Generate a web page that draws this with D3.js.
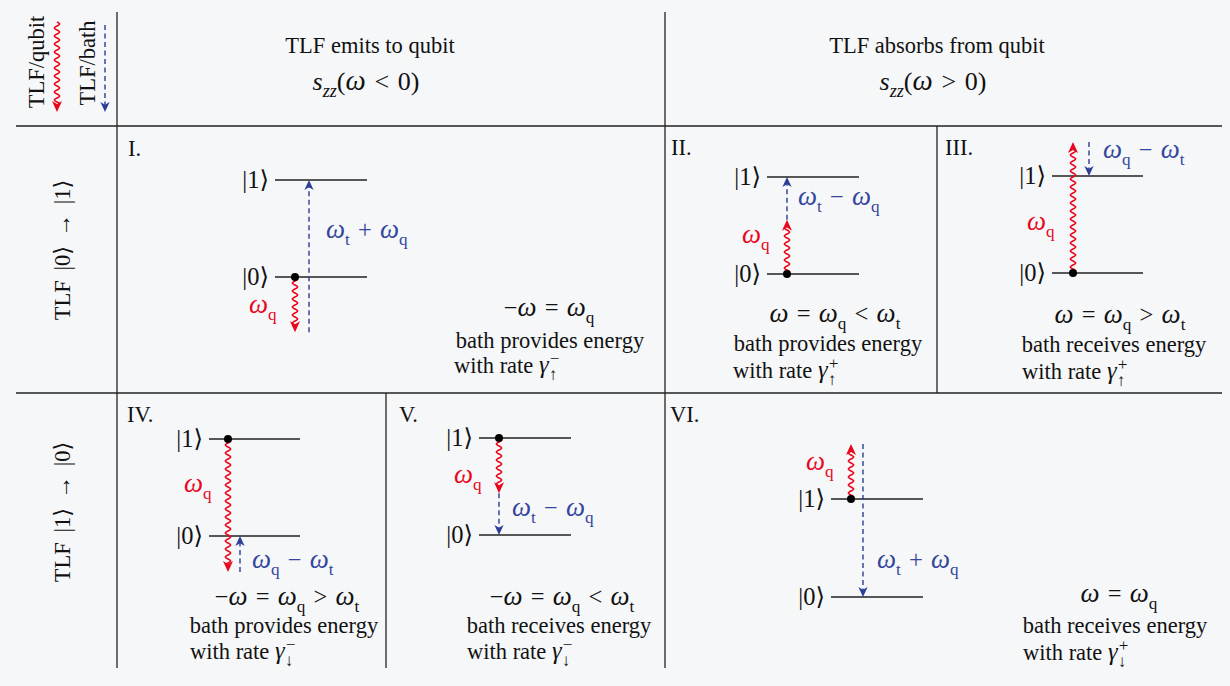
<!DOCTYPE html>
<html>
<head>
<meta charset="utf-8">
<script src="https://cdn.jsdelivr.net/npm/d3@7"></script>
<style>
  html, body { margin: 0; padding: 0; background: #f6f7f9; }
  svg { display: block; }
  text { font-family: "Liberation Serif", "DejaVu Serif", serif; fill: #111; }
</style>
</head>
<body>
<svg id="chart" width="1230" height="686"></svg>
<script>
// ---------- content of the table ----------
const columnTitles = ["TLF emits to qubit", "TLF absorbs from qubit"];
const columnSpectra = ["s_{zz}(ω < 0)", "s_{zz}(ω > 0)"];
const rowTitles = ["TLF |0⟩ → |1⟩", "TLF |1⟩ → |0⟩"];
const legendLabels = ["TLF/qubit", "TLF/bath"];

const panelNames = ["I.", "II.", "III.", "IV.", "V.", "VI."];
// TLF level before and after the transition
const initialLevel = [0, 0, 0, 1, 1, 1];
const finalLevel = [1, 1, 1, 0, 0, 0];
// energy handed to (negative) or taken from (positive) the qubit, in units of the TLF splitting ω_t
const qubitStep = [-0.57, 0.56, 1.35, -1.37, -0.57, 0.56];
const qubitLabels = ["ω_q", "ω_q", "ω_q", "ω_q", "ω_q", "ω_q"];
const bathLabels = ["ω_t + ω_q", "ω_t − ω_q", "ω_q − ω_t", "ω_q − ω_t", "ω_t − ω_q", "ω_t + ω_q"];
const conditions = ["−ω = ω_q", "ω = ω_q < ω_t", "ω = ω_q > ω_t",
                    "−ω = ω_q > ω_t", "−ω = ω_q < ω_t", "ω = ω_q"];
const bathRoles = ["bath provides energy", "bath provides energy", "bath receives energy",
                   "bath provides energy", "bath receives energy", "bath receives energy"];
const rateSymbols = ["γ_↑^−", "γ_↑^+", "γ_↑^+", "γ_↓^−", "γ_↓^−", "γ_↓^+"];
const levelNames = ["|0⟩", "|1⟩"];

// ---------- page layout ----------
const W = 1230, H = 686;
const FS = 22.5;          // body text size
const MFS = 24.5;         // math size
const RED = "#e8071d", BLUE = "#2d3e95", BLUE_TXT = "#34459d", INK = "#222";

// table rules: [x1, y1, x2, y2]
const rules = [
  [16, 126, 1222, 126], [16, 393, 1222, 393],
  [117, 12, 117, 668], [665, 12, 665, 668],
  [937, 126, 937, 393], [386, 393, 386, 668]
];

// per panel drawing frame
const panelLayout = [
  {lx: [275, 367], ly: [277, 180], dotX: 295, bathX: 309, qLab: [249, 313], bLab: [326, 238],
   name: [128, 156], cond: [549, 316], role: [550, 348], rate: [454, 373]},
  {lx: [767, 859], ly: [274, 177], dotX: 787, bathX: 787, qLab: [742, 243], bLab: [798, 205],
   name: [671, 155], cond: [835, 322], role: [828, 351], rate: [733, 378]},
  {lx: [1052, 1143], ly: [273, 176], dotX: 1073, bathX: 1089, qLab: [1027, 230], bLab: [1103, 158],
   name: [945, 155], cond: [1120, 323], role: [1114, 352], rate: [1022, 379]},
  {lx: [209, 300], ly: [536, 439], dotX: 228, bathX: 240, qLab: [184, 492], bLab: [252, 568],
   name: [127, 422], cond: [287, 605], role: [284, 633], rate: [190, 659]},
  {lx: [479, 571], ly: [535, 438], dotX: 499, bathX: 499, qLab: [454, 483], bLab: [512, 516],
   name: [399, 422], cond: [562, 605], role: [559, 633], rate: [467, 659]},
  {lx: [831, 923], ly: [597, 499], dotX: 851, bathX: 863, qLab: [806, 470], bLab: [877, 568],
   name: [670, 422], cond: [1119, 602], role: [1115, 633], rate: [1023, 660]}
];

const svg = d3.select("#chart");
svg.append("rect").attr("width", W).attr("height", H).attr("fill", "#f6f7f9");

// ---------- helpers ----------
const ITALIC = new Set(["ω", "s", "z", "γ"]);
const BIG = new Set(["ω"]);   // letters drawn slightly larger, like a math font

// Small TeX-like typesetter: "_x" / "_{xy}" subscripts, "^x" superscripts,
// a superscript right after a subscript is stacked above it.
function typeset(textSel, src, fs) {
  const toks = [];
  for (let i = 0; i < src.length;) {
    const c = src[i];
    if (c === "_" || c === "^") {
      let g;
      if (src[i + 1] === "{") { const j = src.indexOf("}", i); g = src.slice(i + 2, j); i = j + 1; }
      else { g = src[i + 1]; i += 2; }
      toks.push({s: g, k: c === "_" ? "sub" : "sup"});
    } else {
      let j = i;
      while (j < src.length && src[j] !== "_" && src[j] !== "^") j++;
      toks.push({s: src.slice(i, j).replace(/ /g, "\u2004"), k: "base"});
      i = j;
    }
  }
  let shift = 0, subSpan = null;
  const stackFix = [];
  toks.forEach((t, ti) => {
    const target = t.k === "sub" ? 0.28 * fs : t.k === "sup" ? -0.36 * fs : 0;
    const size = t.k === "base" ? fs : 0.7 * fs;
    const runs = [];
    Array.from(t.s).forEach(ch => {
      const it = ITALIC.has(ch), big = BIG.has(ch);
      const last = runs[runs.length - 1];
      if (last && last.it === it && last.big === big) last.s += ch;
      else runs.push({s: ch, it, big});
    });
    runs.forEach((r, ri) => {
      const ts = textSel.append("tspan").text(r.s)
        .attr("font-size", size * (r.big ? 1.1 : 1))
        .attr("font-style", r.it ? "italic" : "normal");
      if (ri === 0) { ts.attr("dy", target - shift); shift = target; }
      if (ri === 0 && t.k === "sub") subSpan = ts;
      if (ri === 0 && t.k === "sup" && ti > 0 && toks[ti - 1].k === "sub") stackFix.push({ts, under: subSpan});
    });
  });
  stackFix.forEach(f => {
    const p = f.under.node().getStartPositionOfChar(0);
    f.ts.attr("x", p.x + 1);
  });
  return textSel;
}

function wavyPath(x, y0, y1, amp = 2.6, wl = 8) {
  const dir = Math.sign(y1 - y0), len = Math.abs(y1 - y0);
  const pts = d3.range(0, len + 0.01, 0.5).map(s => [x + amp * Math.sin(2 * Math.PI * s / wl), y0 + dir * s]);
  return d3.line()(pts);
}

function arrowHead(g, x, y, dir, color, hw = 5, len = 11) {
  // dir: +1 points down, -1 points up
  g.append("path")
    .attr("d", `M0,0 L${-hw},${-len} L0,${-len * 0.72} L${hw},${-len} Z`)
    .attr("transform", `translate(${x},${y}) scale(1,${dir})`)
    .attr("fill", color);
}

function qubitArrow(g, x, ya, yb) {
  const dir = Math.sign(yb - ya);
  g.append("path").attr("d", wavyPath(x, ya, yb - dir * 7))
    .attr("fill", "none").attr("stroke", RED).attr("stroke-width", 1.5);
  arrowHead(g, x, yb, dir, RED, 5, 11);
}

function bathArrow(g, x, ya, yb) {
  const dir = Math.sign(yb - ya);
  g.append("line").attr("x1", x).attr("x2", x).attr("y1", ya).attr("y2", yb - dir * 7)
    .attr("stroke", BLUE).attr("stroke-width", 1.4).attr("stroke-dasharray", "5,3.5");
  arrowHead(g, x, yb, dir, BLUE, 4.6, 10);
}

// ---------- table rules ----------
svg.append("g").selectAll("line").data(rules).join("line")
  .attr("x1", d => d[0]).attr("y1", d => d[1]).attr("x2", d => d[2]).attr("y2", d => d[3])
  .attr("stroke", INK).attr("stroke-width", 1.3);

// ---------- corner legend ----------
const legend = svg.append("g");
[[44, 62], [95, 63]].forEach((p, i) => {
  legend.append("text").attr("transform", `translate(${p[0]},${p[1]}) rotate(-90)`)
    .attr("text-anchor", "middle").attr("font-size", FS).text(legendLabels[i]);
});
qubitArrow(legend, 57, 22, 112);
bathArrow(legend, 105, 25, 112);

// ---------- column headers ----------
const colCenters = [370, 937];
colCenters.forEach((cx, i) => {
  svg.append("text").attr("x", cx).attr("y", 53).attr("text-anchor", "middle")
    .attr("font-size", FS).text(columnTitles[i]);
  typeset(svg.append("text").attr("x", cx - 4).attr("y", 90).attr("text-anchor", "middle"),
    columnSpectra[i], 26);
});

// ---------- row headers ----------
const rowCenters = [250, 512];
rowCenters.forEach((cy, i) => {
  svg.append("text").attr("transform", `translate(70,${cy}) rotate(-90)`)
    .attr("text-anchor", "middle").attr("font-size", FS).attr("word-spacing", 4)
    .text(rowTitles[i]);
});

// ---------- panels ----------
panelNames.forEach((name, i) => {
  const L = panelLayout[i];
  const g = svg.append("g");
  const y = d3.scaleLinear().domain([0, 1]).range(L.ly);

  g.append("text").attr("x", L.name[0]).attr("y", L.name[1]).attr("font-size", FS).text(name);

  // energy levels
  [0, 1].forEach(lv => {
    g.append("line").attr("x1", L.lx[0]).attr("x2", L.lx[1])
      .attr("y1", y(lv)).attr("y2", y(lv)).attr("stroke", INK).attr("stroke-width", 1.3);
    g.append("text").attr("x", L.lx[0] - 6).attr("y", y(lv) + 8)
      .attr("text-anchor", "end").attr("font-size", MFS).text(levelNames[lv]);
  });

  // transitions
  const start = initialLevel[i];
  const mid = start + qubitStep[i];
  const end = finalLevel[i];
  bathArrow(g, L.bathX, y(mid), y(end));
  qubitArrow(g, L.dotX, y(start), y(mid));
  g.append("circle").attr("cx", L.dotX).attr("cy", y(start)).attr("r", 4).attr("fill", "#000");

  typeset(g.append("text").attr("x", L.qLab[0]).attr("y", L.qLab[1]).style("fill", RED),
    qubitLabels[i], MFS);
  typeset(g.append("text").attr("x", L.bLab[0]).attr("y", L.bLab[1]).style("fill", BLUE_TXT),
    bathLabels[i], MFS);

  // condition and rate text
  typeset(g.append("text").attr("x", L.cond[0]).attr("y", L.cond[1]).attr("text-anchor", "middle"),
    conditions[i], MFS);
  g.append("text").attr("x", L.role[0]).attr("y", L.role[1]).attr("text-anchor", "middle")
    .attr("font-size", FS).text(bathRoles[i]);
  const rate = g.append("text").attr("x", L.rate[0]).attr("y", L.rate[1]).attr("font-size", FS);
  rate.append("tspan").text("with rate ");
  typeset(rate, rateSymbols[i], MFS);
});
</script>
</body>
</html>
